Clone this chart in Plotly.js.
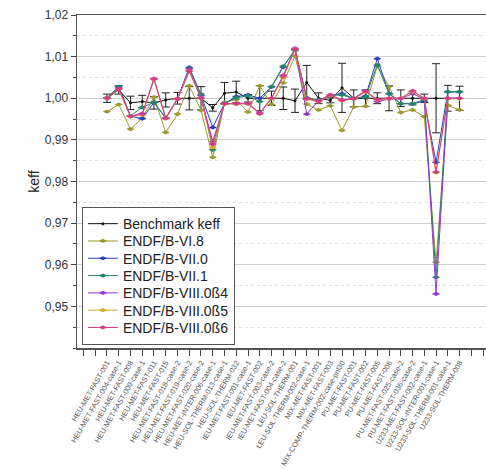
<!DOCTYPE html>
<html>
<head>
<meta charset="utf-8">
<script src="https://cdn.plot.ly/plotly-3.0.1.min.js"></script>
<style>
  html, body { margin: 0; padding: 0; background: #fff; }
  #chart { width: 486px; height: 469px; }
</style>
</head>
<body>
<div id="chart"></div>
<script>
// Benchmark cases (ICSBEP identifiers)
const cases = [
  'HEU-MET-FAST-001', 'HEU-MET-FAST-004-case-1', 'HEU-MET-FAST-008', 'HEU-MET-FAST-009-case-1',
  'HEU-MET-FAST-011', 'HEU-MET-FAST-015', 'HEU-MET-FAST-018-case-2', 'HEU-MET-FAST-019-case-2',
  'HEU-MET-FAST-020-case-2', 'HEU-MET-INTER-006-case-1', 'HEU-SOL-THERM-013-case-1', 'HEU-SOL-THERM-032',
  'IEU-MET-FAST-001-case-1', 'IEU-MET-FAST-002', 'IEU-MET-FAST-003-case-2', 'IEU-MET-FAST-004-case-2',
  'LEU-SOL-THERM-001', 'LEU-SOL-THERM-002-case-1', 'MIX-MET-FAST-001', 'MIX-MET-FAST-003',
  'MIX-COMP-THERM-002-case-pnl30', 'PU-MET-FAST-001', 'PU-MET-FAST-002', 'PU-MET-FAST-005',
  'PU-MET-FAST-006', 'PU-MET-FAST-025-case-2', 'PU-MET-FAST-036-case-2', 'U233-MET-FAST-002-case-1',
  'U233-SOL-INTER-001-case-1', 'U233-SOL-THERM-001-case-1', 'U233-SOL-THERM-008'
];

// Experimental benchmark keff and its 1-sigma uncertainty
const benchKeff = [1.0000, 1.0020, 0.9989, 0.9992, 0.9989, 0.9996, 1.0000, 1.0000, 1.0000, 0.9977,
                   1.0012, 1.0015, 1.0000, 1.0000, 1.0000, 1.0000, 0.9994, 1.0038, 1.0000, 0.9995,
                   1.0025, 1.0000, 1.0000, 1.0000, 1.0000, 1.0000, 1.0000, 1.0000, 1.0000, 1.0000, 1.0000];
const benchUnc  = [0.0010, 0.0010, 0.0016, 0.0015, 0.0015, 0.0017, 0.0014, 0.0028, 0.0028, 0.0008,
                   0.0026, 0.0026, 0.0009, 0.0030, 0.0017, 0.0027, 0.0028, 0.0041, 0.0013, 0.0006,
                   0.0059, 0.0020, 0.0020, 0.0013, 0.0030, 0.0020, 0.0016, 0.0010, 0.0083, 0.0031, 0.0029];

// Calculated keff per nuclear data library
const endf_VI8   = [0.9968, 0.9985, 0.9926, 0.9952, 1.0003, 0.9918, 0.9962, 1.0030, 0.9971, 0.9858,
                    0.9990, 0.9997, 0.9967, 1.0030, 0.9985, 1.0037, 1.0101, 0.9986, 0.9972, 0.9982,
                    0.9923, 0.9979, 0.9981, 1.0077, 1.0028, 0.9966, 0.9972, 0.9956, 0.9606, 0.9983, 0.9972];
const endf_VII0  = [1.0001, 1.0027, 0.9957, 0.9951, 0.9990, 0.9952, 0.9998, 1.0074, 1.0007, 0.9930,
                    0.9987, 1.0004, 1.0008, 1.0000, 1.0027, 1.0075, 1.0117, 1.0000, 0.9993, 1.0006,
                    1.0011, 0.9999, 1.0005, 1.0095, 1.0011, 0.9987, 0.9987, 0.9993, 0.9846, 1.0015, 1.0015];
const endf_VII1  = [1.0001, 1.0028, 0.9958, 0.9978, 0.9990, 0.9953, 0.9999, 1.0072, 1.0010, 0.9876,
                    0.9988, 1.0001, 1.0006, 0.9992, 1.0028, 1.0077, 1.0115, 1.0001, 0.9996, 1.0007,
                    1.0008, 0.9999, 1.0003, 1.0080, 1.0011, 0.9987, 0.9987, 0.9997, 0.9570, 1.0016, 1.0016];
const endf_VIII4 = [1.0000, 1.0024, 0.9957, 0.9963, 1.0047, 0.9952, 0.9999, 1.0070, 1.0002, 0.9896,
                    0.9987, 0.9987, 0.9988, 0.9965, 1.0000, 1.0055, 1.0120, 0.9962, 0.9994, 1.0008,
                    0.9996, 1.0000, 1.0018, 0.9992, 0.9998, 0.9999, 1.0011, 0.9998, 0.9530, 1.0000, 1.0000];
const endf_VIII5 = [1.0000, 1.0021, 0.9956, 0.9960, 1.0045, 0.9951, 0.9998, 1.0066, 1.0000, 0.9882,
                    0.9986, 0.9986, 0.9987, 0.9963, 1.0000, 1.0050, 1.0118, 0.9998, 0.9992, 1.0007,
                    0.9994, 0.9999, 1.0015, 0.9996, 0.9999, 1.0000, 1.0016, 0.9999, 0.9821, 0.9999, 0.9999];
const endf_VIII6 = [1.0000, 1.0022, 0.9957, 0.9962, 1.0046, 0.9952, 0.9998, 1.0065, 1.0000, 0.9890,
                    0.9987, 0.9987, 0.9987, 0.9963, 1.0000, 1.0053, 1.0118, 0.9999, 0.9993, 1.0008,
                    0.9995, 0.9999, 1.0017, 0.9997, 1.0000, 1.0000, 1.0018, 1.0000, 0.9823, 1.0000, 1.0000];

const seriesNames = ['Benchmark keff', 'ENDF/B-VI.8', 'ENDF/B-VII.0', 'ENDF/B-VII.1',
                     'ENDF/B-VIII.0ß4', 'ENDF/B-VIII.0ß5', 'ENDF/B-VIII.0ß6'];

// Labelled y ticks (the bottom edge 0,94 carries no label)
const yTicks = [0.95, 0.96, 0.97, 0.98, 0.99, 1.00, 1.01, 1.02];

// Category axis has two empty slots before the first case and three after the last
const LEAD = 2, TRAIL = 3;
const xPos = cases.map((_, i) => i + LEAD);
const nSlots = cases.length + LEAD + TRAIL;
const tickVals = Array.from({length: nSlots}, (_, i) => i);
const tickText = tickVals.map(i => (i >= LEAD && i < LEAD + cases.length) ? cases[i - LEAD] : '');

const colors = ['#111111', '#9c9a2c', '#2b3fc0', '#24876a', '#9a36d0', '#dca82a', '#d83a86'];
const calcSeries = [endf_VI8, endf_VII0, endf_VII1, endf_VIII4, endf_VIII5, endf_VIII6];

const traces = [{
  type: 'scatter', mode: 'lines+markers', name: seriesNames[0],
  x: xPos, y: benchKeff,
  error_y: {type: 'data', array: benchUnc, visible: true, color: '#222', thickness: 1, width: 4},
  line: {color: colors[0], width: 1},
  marker: {symbol: 'circle', size: 3, color: colors[0]}
}];
calcSeries.forEach((vals, k) => {
  traces.push({
    type: 'scatter', mode: 'lines+markers', name: seriesNames[k + 1],
    x: xPos, y: vals,
    line: {color: colors[k + 1], width: 1},
    marker: {symbol: 'diamond-wide', size: 6, color: colors[k + 1]}
  });
});

const layout = {
  width: 486, height: 469,
  margin: {l: 77, r: 0, t: 15, b: 121},
  paper_bgcolor: '#fff', plot_bgcolor: '#fff',
  separators: ', ',
  font: {family: 'Arial, "Liberation Sans", sans-serif', color: '#333'},
  showlegend: true,
  legend: {
    x: 0.012, y: 0.01, xanchor: 'left', yanchor: 'bottom',
    bgcolor: '#fff', bordercolor: '#555', borderwidth: 1,
    font: {size: 14, color: '#222'}, tracegroupgap: 0
  },
  xaxis: {
    range: [-0.55, 34.25], tickmode: 'array', tickvals: tickVals, ticktext: tickText,
    tickangle: -60, tickfont: {size: 7.4, color: '#555'},
    ticks: 'outside', ticklen: 6, tickwidth: 1, tickcolor: '#444',
    showline: true, linecolor: '#555', linewidth: 1.5, mirror: true,
    showgrid: false, zeroline: false, automargin: false
  },
  yaxis: {
    range: [0.94, 1.02], tickmode: 'array', tickvals: yTicks, tickformat: '.2f',
    tickfont: {size: 12, color: '#333'},
    ticks: 'outside', ticklen: 5, tickwidth: 1, tickcolor: '#444',
    showline: true, linecolor: '#555', linewidth: 1.5,
    showgrid: true, gridcolor: '#cfcfcf', gridwidth: 1.2, zeroline: false,
    minor: {dtick: 0.005, tick0: 0.94, ticks: 'outside', ticklen: 3, tickcolor: '#444',
            showgrid: true, gridcolor: '#dedede', griddash: 'dot', gridwidth: 1},
    title: {text: 'keff', font: {size: 14, color: '#222'}, standoff: 2}
  }
};

// Tighten the legend rows to a fixed pitch, keeping the box anchored at its bottom edge
function tightenLegend(pitch) {
  const legend = document.querySelector('g.legend');
  if (!legend) return;
  const parse = t => {
    const m = /translate\(\s*([-\d.e]+)[ ,]+([-\d.e]+)\s*\)/.exec(t || '');
    return m ? {x: +m[1], y: +m[2]} : {x: 0, y: 0};
  };
  const items = Array.from(legend.querySelectorAll('g.traces'));
  if (items.length < 2) return;
  const p0 = parse(items[0].getAttribute('transform'));
  const p1 = parse(items[1].getAttribute('transform'));
  const step = p1.y - p0.y;
  const shrink = (step - pitch) * (items.length - 1);
  if (shrink <= 0) return;
  items.forEach((g, i) => {
    const p = parse(g.getAttribute('transform'));
    g.setAttribute('transform', `translate(${p.x},${p0.y + i * pitch})`);
  });
  const bg = legend.querySelector('rect.bg');
  if (bg) bg.setAttribute('height', (+bg.getAttribute('height')) - shrink);
  const lp = parse(legend.getAttribute('transform'));
  legend.setAttribute('transform', `translate(${lp.x},${lp.y + shrink})`);
}

Plotly.newPlot('chart', traces, layout, {displayModeBar: false, staticPlot: true})
  .then(() => tightenLegend(17.3));
</script>
</body>
</html>
